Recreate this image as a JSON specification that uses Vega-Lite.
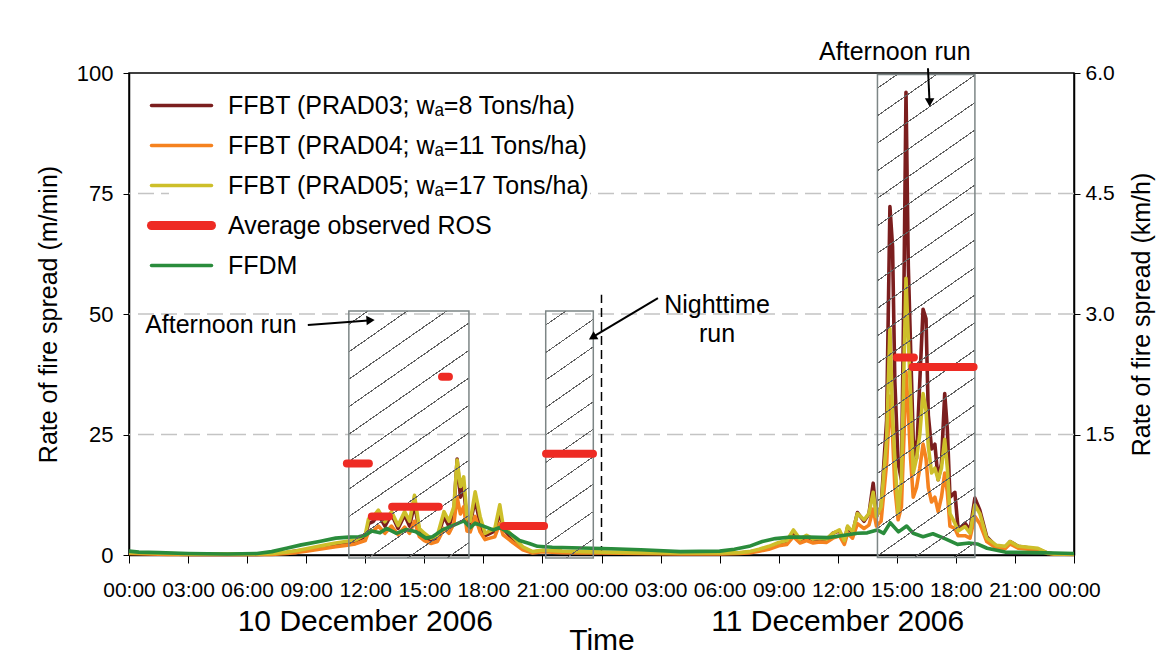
{
  "$schema": "https://vega.github.io/schema/vega-lite/v6.json",
  "width": 945,
  "height": 482,
  "autosize": {"type": "none"},
  "padding": {"left": 129, "top": 73, "right": 86, "bottom": 99},
  "background": "white",
  "config": {
    "font": "Liberation Sans",
    "view": {"stroke": "black", "strokeWidth": 1.5},
    "axis": {"labelColor": "black", "titleColor": "black", "tickColor": "black", "domainColor": "black", "titleFontWeight": "normal", "grid": false, "domainWidth": 1.5}
  },
  "datasets": {
    "ffbt": [
      {"t": "2006-12-10T00:00Z", "p03": 0.4, "p04": 0.3, "p05": 0.5},
      {"t": "2006-12-10T01:00Z", "p03": 0.3, "p04": 0.2, "p05": 0.4},
      {"t": "2006-12-10T02:00Z", "p03": 0.2, "p04": 0.1, "p05": 0.3},
      {"t": "2006-12-10T03:00Z", "p03": 0.1, "p04": 0.1, "p05": 0.2},
      {"t": "2006-12-10T05:00Z", "p03": 0.1, "p04": 0.1, "p05": 0.2},
      {"t": "2006-12-10T06:30Z", "p03": 0.1, "p04": 0.1, "p05": 0.2},
      {"t": "2006-12-10T07:15Z", "p03": 0.2, "p04": 0.1, "p05": 0.3},
      {"t": "2006-12-10T08:00Z", "p03": 0.5, "p04": 0.3, "p05": 0.6},
      {"t": "2006-12-10T08:30Z", "p03": 0.8, "p04": 0.5, "p05": 0.9},
      {"t": "2006-12-10T09:00Z", "p03": 1.1, "p04": 0.8, "p05": 1.3},
      {"t": "2006-12-10T09:30Z", "p03": 1.5, "p04": 1.1, "p05": 1.7},
      {"t": "2006-12-10T10:00Z", "p03": 1.9, "p04": 1.4, "p05": 2.1},
      {"t": "2006-12-10T10:30Z", "p03": 2.3, "p04": 1.7, "p05": 2.5},
      {"t": "2006-12-10T11:00Z", "p03": 2.6, "p04": 2.0, "p05": 2.8},
      {"t": "2006-12-10T11:30Z", "p03": 2.9, "p04": 2.3, "p05": 3.1},
      {"t": "2006-12-10T12:00Z", "p03": 3.8, "p04": 3.0, "p05": 4.2},
      {"t": "2006-12-10T12:10Z", "p03": 6.5, "p04": 4.8, "p05": 7.5},
      {"t": "2006-12-10T12:25Z", "p03": 7.0, "p04": 5.0, "p05": 8.0},
      {"t": "2006-12-10T12:40Z", "p03": 8.5, "p04": 6.0, "p05": 9.3},
      {"t": "2006-12-10T13:00Z", "p03": 6.0, "p04": 4.5, "p05": 6.9},
      {"t": "2006-12-10T13:20Z", "p03": 8.5, "p04": 6.0, "p05": 9.0},
      {"t": "2006-12-10T13:40Z", "p03": 5.5, "p04": 4.2, "p05": 6.1},
      {"t": "2006-12-10T14:00Z", "p03": 8.3, "p04": 5.8, "p05": 9.0},
      {"t": "2006-12-10T14:15Z", "p03": 6.0, "p04": 4.5, "p05": 7.0},
      {"t": "2006-12-10T14:30Z", "p03": 10.5, "p04": 7.0, "p05": 12.4},
      {"t": "2006-12-10T14:45Z", "p03": 5.0, "p04": 3.8, "p05": 5.5},
      {"t": "2006-12-10T15:00Z", "p03": 3.8, "p04": 3.0, "p05": 4.5},
      {"t": "2006-12-10T15:20Z", "p03": 3.0, "p04": 2.4, "p05": 3.5},
      {"t": "2006-12-10T15:40Z", "p03": 3.6, "p04": 2.8, "p05": 4.1},
      {"t": "2006-12-10T16:00Z", "p03": 8.0, "p04": 5.5, "p05": 9.0},
      {"t": "2006-12-10T16:15Z", "p03": 6.0, "p04": 4.5, "p05": 7.0},
      {"t": "2006-12-10T16:30Z", "p03": 9.0, "p04": 6.5, "p05": 10.0},
      {"t": "2006-12-10T16:40Z", "p03": 19.9, "p04": 12.0, "p05": 19.7},
      {"t": "2006-12-10T16:50Z", "p03": 12.0, "p04": 8.5, "p05": 14.2},
      {"t": "2006-12-10T17:00Z", "p03": 14.0, "p04": 10.0, "p05": 16.2},
      {"t": "2006-12-10T17:10Z", "p03": 7.0, "p04": 5.0, "p05": 8.0},
      {"t": "2006-12-10T17:20Z", "p03": 6.5, "p04": 4.8, "p05": 7.0},
      {"t": "2006-12-10T17:35Z", "p03": 11.5, "p04": 8.0, "p05": 13.1},
      {"t": "2006-12-10T17:50Z", "p03": 6.5, "p04": 4.8, "p05": 8.0},
      {"t": "2006-12-10T18:05Z", "p03": 4.0, "p04": 3.2, "p05": 4.5},
      {"t": "2006-12-10T18:20Z", "p03": 4.5, "p04": 3.5, "p05": 5.0},
      {"t": "2006-12-10T18:35Z", "p03": 5.0, "p04": 3.8, "p05": 5.5},
      {"t": "2006-12-10T18:50Z", "p03": 9.0, "p04": 6.5, "p05": 10.4},
      {"t": "2006-12-10T19:00Z", "p03": 5.5, "p04": 4.2, "p05": 6.2},
      {"t": "2006-12-10T19:30Z", "p03": 3.2, "p04": 2.6, "p05": 3.8},
      {"t": "2006-12-10T20:00Z", "p03": 1.4, "p04": 1.1, "p05": 1.7},
      {"t": "2006-12-10T20:30Z", "p03": 0.6, "p04": 0.4, "p05": 0.7},
      {"t": "2006-12-10T21:00Z", "p03": 0.9, "p04": 0.7, "p05": 1.0},
      {"t": "2006-12-10T22:00Z", "p03": 0.7, "p04": 0.5, "p05": 0.8},
      {"t": "2006-12-10T23:00Z", "p03": 0.6, "p04": 0.4, "p05": 0.7},
      {"t": "2006-12-11T00:00Z", "p03": 0.5, "p04": 0.4, "p05": 0.6},
      {"t": "2006-12-11T02:00Z", "p03": 0.4, "p04": 0.3, "p05": 0.5},
      {"t": "2006-12-11T04:00Z", "p03": 0.3, "p04": 0.2, "p05": 0.4},
      {"t": "2006-12-11T06:00Z", "p03": 0.3, "p04": 0.2, "p05": 0.4},
      {"t": "2006-12-11T07:00Z", "p03": 0.4, "p04": 0.3, "p05": 0.5},
      {"t": "2006-12-11T07:30Z", "p03": 0.6, "p04": 0.4, "p05": 0.7},
      {"t": "2006-12-11T08:00Z", "p03": 1.0, "p04": 0.8, "p05": 1.2},
      {"t": "2006-12-11T08:30Z", "p03": 1.5, "p04": 1.2, "p05": 1.8},
      {"t": "2006-12-11T09:00Z", "p03": 2.3, "p04": 1.9, "p05": 2.6},
      {"t": "2006-12-11T09:25Z", "p03": 2.7, "p04": 2.2, "p05": 3.0},
      {"t": "2006-12-11T09:45Z", "p03": 4.8, "p04": 3.8, "p05": 5.2},
      {"t": "2006-12-11T10:05Z", "p03": 3.0, "p04": 2.5, "p05": 3.3},
      {"t": "2006-12-11T10:25Z", "p03": 3.8, "p04": 3.0, "p05": 4.1},
      {"t": "2006-12-11T10:45Z", "p03": 3.0, "p04": 2.5, "p05": 3.3},
      {"t": "2006-12-11T11:05Z", "p03": 3.3, "p04": 2.7, "p05": 3.5},
      {"t": "2006-12-11T11:25Z", "p03": 3.1, "p04": 2.6, "p05": 3.3},
      {"t": "2006-12-11T11:45Z", "p03": 4.5, "p04": 3.5, "p05": 4.5},
      {"t": "2006-12-11T12:05Z", "p03": 5.0, "p04": 4.0, "p05": 5.2},
      {"t": "2006-12-11T12:20Z", "p03": 2.8, "p04": 2.2, "p05": 3.0},
      {"t": "2006-12-11T12:30Z", "p03": 5.8, "p04": 4.5, "p05": 6.0},
      {"t": "2006-12-11T12:45Z", "p03": 4.5, "p04": 3.5, "p05": 4.8},
      {"t": "2006-12-11T13:00Z", "p03": 8.8, "p04": 6.5, "p05": 8.6},
      {"t": "2006-12-11T13:20Z", "p03": 7.0, "p04": 5.5, "p05": 7.3},
      {"t": "2006-12-11T13:35Z", "p03": 8.5, "p04": 6.2, "p05": 8.6},
      {"t": "2006-12-11T13:48Z", "p03": 14.9, "p04": 9.5, "p05": 13.0},
      {"t": "2006-12-11T13:58Z", "p03": 8.0, "p04": 6.0, "p05": 8.0},
      {"t": "2006-12-11T14:12Z", "p03": 10.0, "p04": 7.0, "p05": 10.0},
      {"t": "2006-12-11T14:29Z", "p03": 28.0, "p04": 19.0, "p05": 24.0},
      {"t": "2006-12-11T14:39Z", "p03": 72.3, "p04": 33.0, "p05": 47.0},
      {"t": "2006-12-11T14:47Z", "p03": 64.0, "p04": 25.0, "p05": 29.0},
      {"t": "2006-12-11T14:54Z", "p03": 36.0, "p04": 14.0, "p05": 20.0},
      {"t": "2006-12-11T15:04Z", "p03": 19.0, "p04": 7.3, "p05": 8.6},
      {"t": "2006-12-11T15:14Z", "p03": 15.6, "p04": 10.0, "p05": 15.6},
      {"t": "2006-12-11T15:22Z", "p03": 57.0, "p04": 25.0, "p05": 40.0},
      {"t": "2006-12-11T15:28Z", "p03": 96.0, "p04": 38.0, "p05": 57.4},
      {"t": "2006-12-11T15:35Z", "p03": 60.0, "p04": 30.0, "p05": 45.0},
      {"t": "2006-12-11T15:42Z", "p03": 43.0, "p04": 20.0, "p05": 33.0},
      {"t": "2006-12-11T15:50Z", "p03": 24.0, "p04": 12.0, "p05": 17.0},
      {"t": "2006-12-11T16:00Z", "p03": 20.0, "p04": 14.0, "p05": 20.0},
      {"t": "2006-12-11T16:10Z", "p03": 36.0, "p04": 18.0, "p05": 25.0},
      {"t": "2006-12-11T16:20Z", "p03": 51.0, "p04": 23.0, "p05": 33.5},
      {"t": "2006-12-11T16:29Z", "p03": 49.0, "p04": 20.0, "p05": 30.0},
      {"t": "2006-12-11T16:36Z", "p03": 29.0, "p04": 14.0, "p05": 22.5},
      {"t": "2006-12-11T16:46Z", "p03": 22.0, "p04": 11.0, "p05": 17.0},
      {"t": "2006-12-11T16:56Z", "p03": 23.0, "p04": 12.0, "p05": 18.0},
      {"t": "2006-12-11T17:06Z", "p03": 15.6, "p04": 9.0, "p05": 15.6},
      {"t": "2006-12-11T17:16Z", "p03": 19.0, "p04": 12.0, "p05": 18.0},
      {"t": "2006-12-11T17:26Z", "p03": 33.5, "p04": 17.0, "p05": 24.0},
      {"t": "2006-12-11T17:34Z", "p03": 26.0, "p04": 13.0, "p05": 18.0},
      {"t": "2006-12-11T17:42Z", "p03": 12.0, "p04": 6.0, "p05": 8.6},
      {"t": "2006-12-11T17:57Z", "p03": 13.0, "p04": 5.5, "p05": 6.6},
      {"t": "2006-12-11T18:07Z", "p03": 5.2, "p04": 4.0, "p05": 5.0},
      {"t": "2006-12-11T18:28Z", "p03": 6.6, "p04": 4.0, "p05": 5.9},
      {"t": "2006-12-11T18:43Z", "p03": 5.2, "p04": 3.5, "p05": 4.5},
      {"t": "2006-12-11T18:58Z", "p03": 11.8, "p04": 8.0, "p05": 10.4},
      {"t": "2006-12-11T19:13Z", "p03": 9.3, "p04": 6.5, "p05": 8.6},
      {"t": "2006-12-11T19:34Z", "p03": 3.8, "p04": 2.8, "p05": 3.5},
      {"t": "2006-12-11T20:04Z", "p03": 1.7, "p04": 1.4, "p05": 2.0},
      {"t": "2006-12-11T20:30Z", "p03": 1.5, "p04": 1.3, "p05": 1.8},
      {"t": "2006-12-11T20:45Z", "p03": 2.8, "p04": 2.3, "p05": 2.8},
      {"t": "2006-12-11T21:10Z", "p03": 1.8, "p04": 1.4, "p05": 1.8},
      {"t": "2006-12-11T21:40Z", "p03": 1.5, "p04": 1.2, "p05": 1.6},
      {"t": "2006-12-11T22:10Z", "p03": 1.2, "p04": 1.0, "p05": 1.4},
      {"t": "2006-12-11T22:40Z", "p03": 0.4, "p04": 0.3, "p05": 0.4},
      {"t": "2006-12-11T23:00Z", "p03": 0.2, "p04": 0.2, "p05": 0.2},
      {"t": "2006-12-12T00:00Z", "p03": 0.2, "p04": 0.1, "p05": 0.2}
    ],
    "ffdm": [
      {"t": "2006-12-10T00:00Z", "v": 0.8},
      {"t": "2006-12-10T00:30Z", "v": 0.6},
      {"t": "2006-12-10T01:30Z", "v": 0.5},
      {"t": "2006-12-10T03:00Z", "v": 0.3},
      {"t": "2006-12-10T05:00Z", "v": 0.2},
      {"t": "2006-12-10T06:30Z", "v": 0.3},
      {"t": "2006-12-10T07:15Z", "v": 0.7},
      {"t": "2006-12-10T08:00Z", "v": 1.4},
      {"t": "2006-12-10T08:45Z", "v": 2.1},
      {"t": "2006-12-10T09:40Z", "v": 2.8},
      {"t": "2006-12-10T10:30Z", "v": 3.5},
      {"t": "2006-12-10T11:10Z", "v": 3.7},
      {"t": "2006-12-10T11:40Z", "v": 3.8},
      {"t": "2006-12-10T12:00Z", "v": 4.1},
      {"t": "2006-12-10T12:20Z", "v": 5.0},
      {"t": "2006-12-10T12:45Z", "v": 4.6},
      {"t": "2006-12-10T13:05Z", "v": 5.5},
      {"t": "2006-12-10T13:35Z", "v": 4.5},
      {"t": "2006-12-10T14:05Z", "v": 5.3},
      {"t": "2006-12-10T14:35Z", "v": 4.8},
      {"t": "2006-12-10T15:05Z", "v": 3.5},
      {"t": "2006-12-10T15:25Z", "v": 3.8},
      {"t": "2006-12-10T15:55Z", "v": 5.2},
      {"t": "2006-12-10T16:30Z", "v": 6.2},
      {"t": "2006-12-10T17:00Z", "v": 7.1},
      {"t": "2006-12-10T17:20Z", "v": 5.7},
      {"t": "2006-12-10T17:35Z", "v": 6.6},
      {"t": "2006-12-10T18:00Z", "v": 6.0},
      {"t": "2006-12-10T18:30Z", "v": 5.2},
      {"t": "2006-12-10T18:50Z", "v": 5.7},
      {"t": "2006-12-10T19:20Z", "v": 4.5},
      {"t": "2006-12-10T19:50Z", "v": 3.0},
      {"t": "2006-12-10T20:20Z", "v": 2.4},
      {"t": "2006-12-10T20:45Z", "v": 1.8},
      {"t": "2006-12-10T21:30Z", "v": 1.6},
      {"t": "2006-12-10T22:30Z", "v": 1.5},
      {"t": "2006-12-10T23:30Z", "v": 1.4},
      {"t": "2006-12-11T00:30Z", "v": 1.3},
      {"t": "2006-12-11T02:00Z", "v": 1.1},
      {"t": "2006-12-11T04:00Z", "v": 0.7},
      {"t": "2006-12-11T06:00Z", "v": 0.8},
      {"t": "2006-12-11T06:45Z", "v": 1.2},
      {"t": "2006-12-11T07:30Z", "v": 1.8},
      {"t": "2006-12-11T08:10Z", "v": 2.8},
      {"t": "2006-12-11T08:50Z", "v": 3.4},
      {"t": "2006-12-11T09:30Z", "v": 3.7},
      {"t": "2006-12-11T10:30Z", "v": 3.7},
      {"t": "2006-12-11T11:30Z", "v": 3.6},
      {"t": "2006-12-11T12:00Z", "v": 3.9},
      {"t": "2006-12-11T12:30Z", "v": 4.2},
      {"t": "2006-12-11T13:00Z", "v": 4.5},
      {"t": "2006-12-11T13:30Z", "v": 4.6},
      {"t": "2006-12-11T14:00Z", "v": 5.2},
      {"t": "2006-12-11T14:20Z", "v": 4.5},
      {"t": "2006-12-11T14:40Z", "v": 6.7},
      {"t": "2006-12-11T15:05Z", "v": 4.8},
      {"t": "2006-12-11T15:30Z", "v": 6.0},
      {"t": "2006-12-11T15:50Z", "v": 4.5},
      {"t": "2006-12-11T16:20Z", "v": 3.8},
      {"t": "2006-12-11T16:50Z", "v": 4.4},
      {"t": "2006-12-11T17:30Z", "v": 3.3},
      {"t": "2006-12-11T18:05Z", "v": 2.2},
      {"t": "2006-12-11T18:40Z", "v": 2.5},
      {"t": "2006-12-11T19:05Z", "v": 2.3},
      {"t": "2006-12-11T19:35Z", "v": 1.4},
      {"t": "2006-12-11T20:30Z", "v": 0.6},
      {"t": "2006-12-11T22:00Z", "v": 0.5},
      {"t": "2006-12-11T23:00Z", "v": 0.4},
      {"t": "2006-12-12T00:00Z", "v": 0.3}
    ],
    "ros": [
      {"start": "2006-12-10T11:04Z", "end": "2006-12-10T12:11Z", "v": 19},
      {"start": "2006-12-10T12:20Z", "end": "2006-12-10T13:12Z", "v": 8},
      {"start": "2006-12-10T13:22Z", "end": "2006-12-10T15:44Z", "v": 10},
      {"start": "2006-12-10T15:54Z", "end": "2006-12-10T16:15Z", "v": 37},
      {"start": "2006-12-10T19:02Z", "end": "2006-12-10T21:05Z", "v": 6},
      {"start": "2006-12-10T21:11Z", "end": "2006-12-10T23:34Z", "v": 21},
      {"start": "2006-12-11T15:00Z", "end": "2006-12-11T15:52Z", "v": 41},
      {"start": "2006-12-11T15:48Z", "end": "2006-12-11T18:54Z", "v": 39}
    ],
    "runs": [
      {"id": 1, "start": "2006-12-10T11:10Z", "end": "2006-12-10T17:16Z", "bottom": -0.6, "top": 50.6},
      {"id": 2, "start": "2006-12-10T21:10Z", "end": "2006-12-10T23:35Z", "bottom": -0.6, "top": 50.6},
      {"id": 3, "start": "2006-12-11T14:01Z", "end": "2006-12-11T18:58Z", "bottom": -0.5, "top": 99.7}
    ],
    "grid": [{"kmh": 1.5}, {"kmh": 3.0}, {"kmh": 4.5}],
    "days": [
      {"t": "2006-12-10T12:00Z", "label": "10 December 2006"},
      {"t": "2006-12-11T12:00Z", "label": "11 December 2006"}
    ],
    "notes": [
      {"t": "2006-12-10T04:40Z", "v": 46.1, "text": "Afternoon run"},
      {"t": "2006-12-11T05:52Z", "v": 50.2, "text": "Nighttime"},
      {"t": "2006-12-11T05:52Z", "v": 44.2, "text": "run"},
      {"t": "2006-12-11T14:54Z", "v": 102.7, "text": "Afternoon run"}
    ],
    "arrows": [
      {"t1": "2006-12-10T09:05Z", "v1": 47.7, "t2": "2006-12-10T12:20Z", "v2": 48.7},
      {"t1": "2006-12-11T02:52Z", "v1": 53.3, "t2": "2006-12-10T23:30Z", "v2": 45.1},
      {"t1": "2006-12-11T16:35Z", "v1": 101, "t2": "2006-12-11T16:40Z", "v2": 93.5}
    ],
    "heads": [
      {"id": 1, "t": "2006-12-10T12:12Z", "v": 48.7},
      {"id": 2, "t": "2006-12-10T23:36Z", "v": 45.3},
      {"id": 3, "t": "2006-12-11T16:40Z", "v": 94.2}
    ],
    "midnight": [{"t": "2006-12-11T00:00Z", "v0": 0, "v1": 54}]
  },
  "layer": [
    {
      "data": {"name": "grid"},
      "mark": {"type": "rule", "color": "#c4c4c4", "strokeDash": [16, 7], "strokeWidth": 1.5},
      "encoding": {
        "y": {
          "field": "kmh", "type": "quantitative",
          "scale": {"domain": [0, 6], "nice": false, "zero": false},
          "axis": {"orient": "right", "values": [1.5, 3, 4.5, 6], "format": ".1f", "title": "Rate of fire spread (km/h)", "titleAngle": 270, "titleBaseline": "top", "titleFontSize": 25, "titlePadding": 15, "labelFontSize": 21, "tickSize": 6, "labelPadding": 5, "domain": true}
        }
      }
    },
    {
      "layer": [
        {
          "data": {"name": "midnight"},
          "mark": {"type": "rule", "color": "black", "strokeDash": [9, 5], "strokeWidth": 1.5},
          "encoding": {
            "x": {
              "field": "t", "type": "temporal",
              "scale": {"type": "utc", "domain": [{"year": 2006, "month": 12, "date": 10, "hours": 0, "utc": true}, {"year": 2006, "month": 12, "date": 12, "hours": 0, "utc": true}]},
              "axis": {"title": "Time", "format": "%H:%M",
                "values": [
                  {"year": 2006, "month": 12, "date": 10, "hours": 0, "utc": true},
                  {"year": 2006, "month": 12, "date": 10, "hours": 3, "utc": true},
                  {"year": 2006, "month": 12, "date": 10, "hours": 6, "utc": true},
                  {"year": 2006, "month": 12, "date": 10, "hours": 9, "utc": true},
                  {"year": 2006, "month": 12, "date": 10, "hours": 12, "utc": true},
                  {"year": 2006, "month": 12, "date": 10, "hours": 15, "utc": true},
                  {"year": 2006, "month": 12, "date": 10, "hours": 18, "utc": true},
                  {"year": 2006, "month": 12, "date": 10, "hours": 21, "utc": true},
                  {"year": 2006, "month": 12, "date": 11, "hours": 0, "utc": true},
                  {"year": 2006, "month": 12, "date": 11, "hours": 3, "utc": true},
                  {"year": 2006, "month": 12, "date": 11, "hours": 6, "utc": true},
                  {"year": 2006, "month": 12, "date": 11, "hours": 9, "utc": true},
                  {"year": 2006, "month": 12, "date": 11, "hours": 12, "utc": true},
                  {"year": 2006, "month": 12, "date": 11, "hours": 15, "utc": true},
                  {"year": 2006, "month": 12, "date": 11, "hours": 18, "utc": true},
                  {"year": 2006, "month": 12, "date": 11, "hours": 21, "utc": true},
                  {"year": 2006, "month": 12, "date": 12, "hours": 0, "utc": true}
                ],
                "labelFontSize": 21, "tickSize": 8, "labelPadding": 16, "labelFlush": false, "labelOverlap": false, "titleFontSize": 30, "titlePadding": 25}
            },
            "y": {
              "field": "v0", "type": "quantitative",
              "scale": {"domain": [0, 100], "nice": false, "zero": false},
              "axis": {"orient": "left", "values": [0, 25, 50, 75, 100], "title": "Rate of fire spread (m/min)", "titleFontSize": 25, "titlePadding": 15, "labelFontSize": 22, "tickSize": 6, "labelPadding": 10}
            },
            "y2": {"field": "v1"}
          }
        },
        {
          "data": {"name": "ffbt"},
          "transform": [{"fold": ["p03", "p04", "p05"], "as": ["series", "val"]}],
          "mark": {"type": "line", "strokeWidth": 3.6, "strokeJoin": "round"},
          "encoding": {
            "x": {"field": "t", "type": "temporal"},
            "y": {"field": "val", "type": "quantitative"},
            "color": {
              "field": "series", "type": "nominal",
              "scale": {"domain": ["p03", "p04", "p05", "ros", "ffdm"], "range": ["#7b1e1e", "#f5821f", "#cdbf2a", "#ee2b24", "#2a8c3c"]},
              "legend": {
                "orient": "none", "legendX": 40, "legendY": 20, "title": null, "padding": 0,
                "fillColor": "white",
                "symbolType": "M-3,0H3", "symbolSize": 400, "symbolStrokeWidth": 3.5,
                "labelFontSize": 25, "labelColor": "black", "labelOffset": 34, "labelLimit": 700,
                "gridAlign": "all", "rowPadding": 3,
                "labelExpr": "datum.label == 'p03' ? 'FFBT (PRAD03; wₐ=8 Tons/ha)' : datum.label == 'p04' ? 'FFBT (PRAD04; wₐ=11 Tons/ha)' : datum.label == 'p05' ? 'FFBT (PRAD05; wₐ=17 Tons/ha)' : datum.label == 'ros' ? 'Average observed ROS' : 'FFDM'",
                "encode": {"symbols": {"update": {"strokeWidth": {"signal": "datum.value === 'ros' ? 9 : 3.5"}, "strokeCap": {"value": "round"}, "fill": {"value": "transparent"}}}}
              }
            }
          }
        },
        {
          "data": {"name": "ffdm"},
          "mark": {"type": "line", "strokeWidth": 3.6, "strokeJoin": "round"},
          "encoding": {
            "x": {"field": "t", "type": "temporal"},
            "y": {"field": "v", "type": "quantitative"},
            "color": {"datum": "ffdm", "type": "nominal"}
          }
        },
        {
          "data": {"name": "runs"},
          "transform": [{"filter": "datum.id == 1"}],
          "mark": {"type": "rect", "stroke": "#7d8686", "strokeWidth": 1.5,
            "fill": {"gradient": "linear", "x1": 0, "y1": 0, "x2": 0.408, "y2": 1.201, "stops": [
              {"offset": 0.038, "color": "rgba(90,90,90,0)"}, {"offset": 0.038, "color": "#606060"}, {"offset": 0.042, "color": "#606060"}, {"offset": 0.042, "color": "rgba(90,90,90,0)"},
              {"offset": 0.1211, "color": "rgba(90,90,90,0)"}, {"offset": 0.1211, "color": "#606060"}, {"offset": 0.1251, "color": "#606060"}, {"offset": 0.1251, "color": "rgba(90,90,90,0)"},
              {"offset": 0.2042, "color": "rgba(90,90,90,0)"}, {"offset": 0.2042, "color": "#606060"}, {"offset": 0.2082, "color": "#606060"}, {"offset": 0.2082, "color": "rgba(90,90,90,0)"},
              {"offset": 0.2873, "color": "rgba(90,90,90,0)"}, {"offset": 0.2873, "color": "#606060"}, {"offset": 0.2913, "color": "#606060"}, {"offset": 0.2913, "color": "rgba(90,90,90,0)"},
              {"offset": 0.3704, "color": "rgba(90,90,90,0)"}, {"offset": 0.3704, "color": "#606060"}, {"offset": 0.3744, "color": "#606060"}, {"offset": 0.3744, "color": "rgba(90,90,90,0)"},
              {"offset": 0.4535, "color": "rgba(90,90,90,0)"}, {"offset": 0.4535, "color": "#606060"}, {"offset": 0.4575, "color": "#606060"}, {"offset": 0.4575, "color": "rgba(90,90,90,0)"},
              {"offset": 0.5366, "color": "rgba(90,90,90,0)"}, {"offset": 0.5366, "color": "#606060"}, {"offset": 0.5406, "color": "#606060"}, {"offset": 0.5406, "color": "rgba(90,90,90,0)"},
              {"offset": 0.6197, "color": "rgba(90,90,90,0)"}, {"offset": 0.6197, "color": "#606060"}, {"offset": 0.6237, "color": "#606060"}, {"offset": 0.6237, "color": "rgba(90,90,90,0)"},
              {"offset": 0.7028, "color": "rgba(90,90,90,0)"}, {"offset": 0.7028, "color": "#606060"}, {"offset": 0.7068, "color": "#606060"}, {"offset": 0.7068, "color": "rgba(90,90,90,0)"},
              {"offset": 0.7859, "color": "rgba(90,90,90,0)"}, {"offset": 0.7859, "color": "#606060"}, {"offset": 0.7899, "color": "#606060"}, {"offset": 0.7899, "color": "rgba(90,90,90,0)"},
              {"offset": 0.869, "color": "rgba(90,90,90,0)"}, {"offset": 0.869, "color": "#606060"}, {"offset": 0.873, "color": "#606060"}, {"offset": 0.873, "color": "rgba(90,90,90,0)"},
              {"offset": 0.9521, "color": "rgba(90,90,90,0)"}, {"offset": 0.9521, "color": "#606060"}, {"offset": 0.9561, "color": "#606060"}, {"offset": 0.9561, "color": "rgba(90,90,90,0)"}
            ]}},
          "encoding": {
            "x": {"field": "start", "type": "temporal"},
            "x2": {"field": "end"},
            "y": {"field": "bottom", "type": "quantitative"},
            "y2": {"field": "top"}
          }
        },
        {
          "data": {"name": "runs"},
          "transform": [{"filter": "datum.id == 2"}],
          "mark": {"type": "rect", "stroke": "#7d8686", "strokeWidth": 1.5,
            "fill": {"gradient": "linear", "x1": 0, "y1": 0, "x2": 0.1504, "y2": 1.1146, "stops": [
              {"offset": 0.0478, "color": "rgba(90,90,90,0)"}, {"offset": 0.0478, "color": "#606060"}, {"offset": 0.0522, "color": "#606060"}, {"offset": 0.0522, "color": "rgba(90,90,90,0)"},
              {"offset": 0.1459, "color": "rgba(90,90,90,0)"}, {"offset": 0.1459, "color": "#606060"}, {"offset": 0.1503, "color": "#606060"}, {"offset": 0.1503, "color": "rgba(90,90,90,0)"},
              {"offset": 0.244, "color": "rgba(90,90,90,0)"}, {"offset": 0.244, "color": "#606060"}, {"offset": 0.2484, "color": "#606060"}, {"offset": 0.2484, "color": "rgba(90,90,90,0)"},
              {"offset": 0.3421, "color": "rgba(90,90,90,0)"}, {"offset": 0.3421, "color": "#606060"}, {"offset": 0.3465, "color": "#606060"}, {"offset": 0.3465, "color": "rgba(90,90,90,0)"},
              {"offset": 0.4402, "color": "rgba(90,90,90,0)"}, {"offset": 0.4402, "color": "#606060"}, {"offset": 0.4446, "color": "#606060"}, {"offset": 0.4446, "color": "rgba(90,90,90,0)"},
              {"offset": 0.5383, "color": "rgba(90,90,90,0)"}, {"offset": 0.5383, "color": "#606060"}, {"offset": 0.5427, "color": "#606060"}, {"offset": 0.5427, "color": "rgba(90,90,90,0)"},
              {"offset": 0.6364, "color": "rgba(90,90,90,0)"}, {"offset": 0.6364, "color": "#606060"}, {"offset": 0.6408, "color": "#606060"}, {"offset": 0.6408, "color": "rgba(90,90,90,0)"},
              {"offset": 0.7345, "color": "rgba(90,90,90,0)"}, {"offset": 0.7345, "color": "#606060"}, {"offset": 0.7389, "color": "#606060"}, {"offset": 0.7389, "color": "rgba(90,90,90,0)"},
              {"offset": 0.8326, "color": "rgba(90,90,90,0)"}, {"offset": 0.8326, "color": "#606060"}, {"offset": 0.837, "color": "#606060"}, {"offset": 0.837, "color": "rgba(90,90,90,0)"},
              {"offset": 0.9307, "color": "rgba(90,90,90,0)"}, {"offset": 0.9307, "color": "#606060"}, {"offset": 0.9351, "color": "#606060"}, {"offset": 0.9351, "color": "rgba(90,90,90,0)"}
            ]}},
          "encoding": {
            "x": {"field": "start", "type": "temporal"},
            "x2": {"field": "end"},
            "y": {"field": "bottom", "type": "quantitative"},
            "y2": {"field": "top"}
          }
        },
        {
          "data": {"name": "runs"},
          "transform": [{"filter": "datum.id == 3"}],
          "mark": {"type": "rect", "stroke": "#7d8686", "strokeWidth": 1.5,
            "fill": {"gradient": "linear", "x1": 0, "y1": 0, "x2": 0.1581, "y2": 1.119, "stops": [
              {"offset": 0.0238, "color": "rgba(90,90,90,0)"}, {"offset": 0.0238, "color": "#606060"}, {"offset": 0.0262, "color": "#606060"}, {"offset": 0.0262, "color": "rgba(90,90,90,0)"},
              {"offset": 0.0737, "color": "rgba(90,90,90,0)"}, {"offset": 0.0737, "color": "#606060"}, {"offset": 0.0761, "color": "#606060"}, {"offset": 0.0761, "color": "rgba(90,90,90,0)"},
              {"offset": 0.1236, "color": "rgba(90,90,90,0)"}, {"offset": 0.1236, "color": "#606060"}, {"offset": 0.126, "color": "#606060"}, {"offset": 0.126, "color": "rgba(90,90,90,0)"},
              {"offset": 0.1735, "color": "rgba(90,90,90,0)"}, {"offset": 0.1735, "color": "#606060"}, {"offset": 0.1759, "color": "#606060"}, {"offset": 0.1759, "color": "rgba(90,90,90,0)"},
              {"offset": 0.2234, "color": "rgba(90,90,90,0)"}, {"offset": 0.2234, "color": "#606060"}, {"offset": 0.2258, "color": "#606060"}, {"offset": 0.2258, "color": "rgba(90,90,90,0)"},
              {"offset": 0.2733, "color": "rgba(90,90,90,0)"}, {"offset": 0.2733, "color": "#606060"}, {"offset": 0.2757, "color": "#606060"}, {"offset": 0.2757, "color": "rgba(90,90,90,0)"},
              {"offset": 0.3232, "color": "rgba(90,90,90,0)"}, {"offset": 0.3232, "color": "#606060"}, {"offset": 0.3256, "color": "#606060"}, {"offset": 0.3256, "color": "rgba(90,90,90,0)"},
              {"offset": 0.3731, "color": "rgba(90,90,90,0)"}, {"offset": 0.3731, "color": "#606060"}, {"offset": 0.3755, "color": "#606060"}, {"offset": 0.3755, "color": "rgba(90,90,90,0)"},
              {"offset": 0.423, "color": "rgba(90,90,90,0)"}, {"offset": 0.423, "color": "#606060"}, {"offset": 0.4254, "color": "#606060"}, {"offset": 0.4254, "color": "rgba(90,90,90,0)"},
              {"offset": 0.4729, "color": "rgba(90,90,90,0)"}, {"offset": 0.4729, "color": "#606060"}, {"offset": 0.4753, "color": "#606060"}, {"offset": 0.4753, "color": "rgba(90,90,90,0)"},
              {"offset": 0.5228, "color": "rgba(90,90,90,0)"}, {"offset": 0.5228, "color": "#606060"}, {"offset": 0.5252, "color": "#606060"}, {"offset": 0.5252, "color": "rgba(90,90,90,0)"},
              {"offset": 0.5727, "color": "rgba(90,90,90,0)"}, {"offset": 0.5727, "color": "#606060"}, {"offset": 0.5751, "color": "#606060"}, {"offset": 0.5751, "color": "rgba(90,90,90,0)"},
              {"offset": 0.6226, "color": "rgba(90,90,90,0)"}, {"offset": 0.6226, "color": "#606060"}, {"offset": 0.625, "color": "#606060"}, {"offset": 0.625, "color": "rgba(90,90,90,0)"},
              {"offset": 0.6725, "color": "rgba(90,90,90,0)"}, {"offset": 0.6725, "color": "#606060"}, {"offset": 0.6749, "color": "#606060"}, {"offset": 0.6749, "color": "rgba(90,90,90,0)"},
              {"offset": 0.7224, "color": "rgba(90,90,90,0)"}, {"offset": 0.7224, "color": "#606060"}, {"offset": 0.7248, "color": "#606060"}, {"offset": 0.7248, "color": "rgba(90,90,90,0)"},
              {"offset": 0.7723, "color": "rgba(90,90,90,0)"}, {"offset": 0.7723, "color": "#606060"}, {"offset": 0.7747, "color": "#606060"}, {"offset": 0.7747, "color": "rgba(90,90,90,0)"},
              {"offset": 0.8222, "color": "rgba(90,90,90,0)"}, {"offset": 0.8222, "color": "#606060"}, {"offset": 0.8246, "color": "#606060"}, {"offset": 0.8246, "color": "rgba(90,90,90,0)"},
              {"offset": 0.8721, "color": "rgba(90,90,90,0)"}, {"offset": 0.8721, "color": "#606060"}, {"offset": 0.8745, "color": "#606060"}, {"offset": 0.8745, "color": "rgba(90,90,90,0)"},
              {"offset": 0.922, "color": "rgba(90,90,90,0)"}, {"offset": 0.922, "color": "#606060"}, {"offset": 0.9244, "color": "#606060"}, {"offset": 0.9244, "color": "rgba(90,90,90,0)"},
              {"offset": 0.9719, "color": "rgba(90,90,90,0)"}, {"offset": 0.9719, "color": "#606060"}, {"offset": 0.9743, "color": "#606060"}, {"offset": 0.9743, "color": "rgba(90,90,90,0)"}
            ]}},
          "encoding": {
            "x": {"field": "start", "type": "temporal"},
            "x2": {"field": "end"},
            "y": {"field": "bottom", "type": "quantitative"},
            "y2": {"field": "top"}
          }
        },
        {
          "data": {"name": "ros"},
          "mark": {"type": "rule", "strokeWidth": 8, "strokeCap": "round"},
          "encoding": {
            "x": {"field": "start", "type": "temporal"},
            "x2": {"field": "end"},
            "y": {"field": "v", "type": "quantitative"},
            "color": {"datum": "ros", "type": "nominal"}
          }
        },
        {
          "data": {"name": "days"},
          "mark": {"type": "text", "fontSize": 30, "baseline": "alphabetic", "align": "center", "dy": 76, "color": "black"},
          "encoding": {
            "x": {"field": "t", "type": "temporal"},
            "y": {"datum": 0, "type": "quantitative"},
            "text": {"field": "label"}
          }
        },
        {
          "data": {"name": "notes"},
          "mark": {"type": "text", "fontSize": 25, "baseline": "alphabetic", "align": "center", "color": "black"},
          "encoding": {
            "x": {"field": "t", "type": "temporal"},
            "y": {"field": "v", "type": "quantitative"},
            "text": {"field": "text"}
          }
        },
        {
          "data": {"name": "arrows"},
          "mark": {"type": "rule", "color": "black", "strokeWidth": 2},
          "encoding": {
            "x": {"field": "t1", "type": "temporal"},
            "y": {"field": "v1", "type": "quantitative"},
            "x2": {"field": "t2"},
            "y2": {"field": "v2"}
          }
        },
        {
          "data": {"name": "heads"},
          "transform": [{"filter": "datum.id == 1"}],
          "mark": {"type": "point", "shape": "triangle", "angle": 87, "size": 90, "filled": true, "color": "black", "opacity": 1},
          "encoding": {
            "x": {"field": "t", "type": "temporal"},
            "y": {"field": "v", "type": "quantitative"}
          }
        },
        {
          "data": {"name": "heads"},
          "transform": [{"filter": "datum.id == 2"}],
          "mark": {"type": "point", "shape": "triangle", "angle": 239, "size": 90, "filled": true, "color": "black", "opacity": 1},
          "encoding": {
            "x": {"field": "t", "type": "temporal"},
            "y": {"field": "v", "type": "quantitative"}
          }
        },
        {
          "data": {"name": "heads"},
          "transform": [{"filter": "datum.id == 3"}],
          "mark": {"type": "point", "shape": "triangle", "angle": 180, "size": 90, "filled": true, "color": "black", "opacity": 1},
          "encoding": {
            "x": {"field": "t", "type": "temporal"},
            "y": {"field": "v", "type": "quantitative"}
          }
        }
      ]
    }
  ],
  "resolve": {"scale": {"y": "independent"}}
}
